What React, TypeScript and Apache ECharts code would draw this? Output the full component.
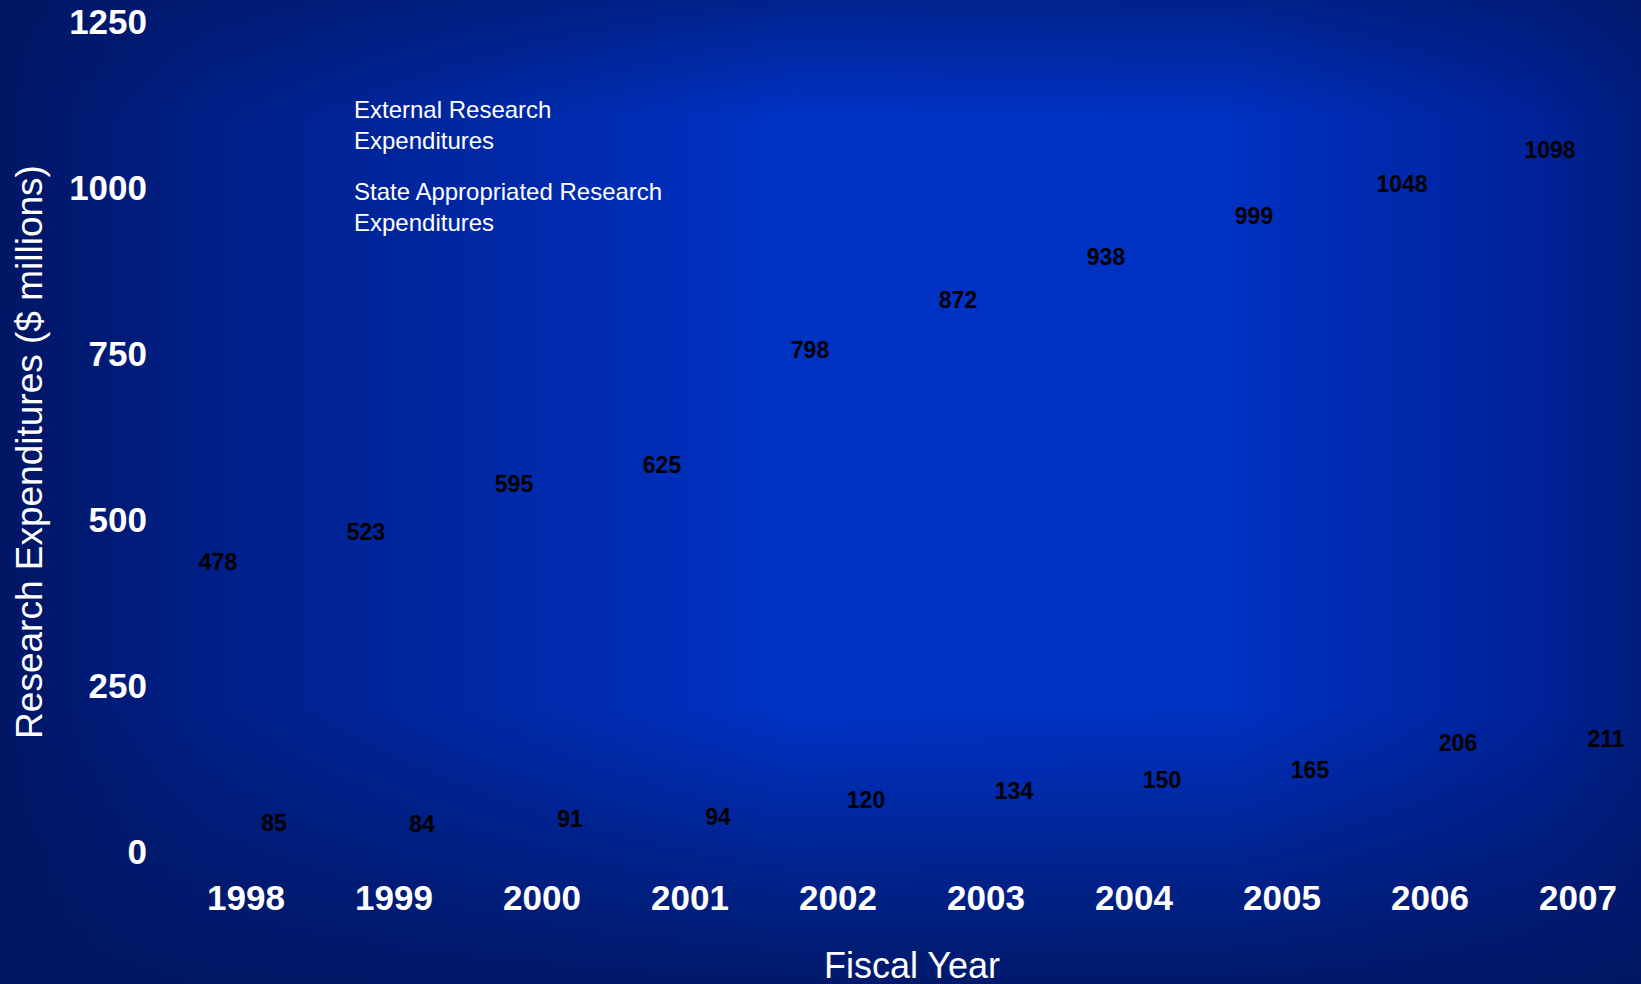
import React, { useEffect, useRef } from "react";
import * as echarts from "echarts";

const categories = ["1998", "1999", "2000", "2001", "2002", "2003", "2004", "2005", "2006", "2007"];
const externalValues = [478, 523, 595, 625, 798, 872, 938, 999, 1048, 1098];
const stateValues = [85, 84, 91, 94, 120, 134, 150, 165, 206, 211];
const yTicks = [0, 250, 500, 750, 1000, 1250];
const seriesNames = ["External Research Expenditures", "State Appropriated Research Expenditures"];
const legendLabels: Record<string, string> = {
  "External Research Expenditures": "External Research\nExpenditures",
  "State Appropriated Research Expenditures": "State Appropriated Research\nExpenditures",
};

const FONT = "'Liberation Sans', Arial, sans-serif";

export default function App() {
  const ref = useRef<HTMLDivElement>(null);
  useEffect(() => {
    if (!ref.current) return;
    const chart = echarts.init(ref.current, null, { renderer: "svg" });
    const label = {
      show: true,
      position: "insideTop" as const,
      distance: 17,
      color: "#000",
      fontWeight: "bold" as const,
      fontSize: 23,
      fontFamily: FONT,
    };
    chart.setOption({
      animation: false,
      backgroundColor: "#001a70",
      graphic: [
        {
          type: "rect",
          z: -100,
          silent: true,
          shape: { x: 0, y: 0, width: 1700, height: 984 },
          style: {
            fill: new echarts.graphic.LinearGradient(0, 0, 1700 / 1641, 0, [
              { offset: 0, color: "#001664" },
              { offset: 0.12, color: "#001f88" },
              { offset: 0.45, color: "#0032c6" },
              { offset: 0.7, color: "#0031c2" },
              { offset: 0.87, color: "#00229a" },
              { offset: 1, color: "#00175e" },
            ]),
          },
        },
        {
          type: "rect",
          z: -99,
          silent: true,
          shape: { x: 0, y: 0, width: 1700, height: 984 },
          style: {
            fill: new echarts.graphic.LinearGradient(0, 0, 0, 1, [
              { offset: 0, color: "rgba(0,22,96,0.55)" },
              { offset: 0.12, color: "rgba(0,22,96,0)" },
              { offset: 0.72, color: "rgba(0,22,96,0)" },
              { offset: 0.9, color: "rgba(0,22,96,0.6)" },
              { offset: 1, color: "rgba(0,22,96,0.9)" },
            ]),
          },
        },
      ],
      legend: {
        orient: "vertical",
        left: 324,
        top: 89,
        itemWidth: 20,
        itemHeight: 14,
        itemGap: 20,
        icon: "rect",
        data: seriesNames,
        formatter: (n: string) => legendLabels[n] || n,
        textStyle: { color: "#fff", fontSize: 24, lineHeight: 31, fontFamily: FONT },
      },
      grid: {
        left: 172,
        top: 21,
        width: 1480,
        height: 830,
        containLabel: false,
        outerBoundsMode: "none",
      },
      xAxis: {
        type: "category",
        data: categories,
        axisLine: { show: false },
        axisTick: { show: false },
        axisLabel: { color: "#fff", fontWeight: "bold", fontSize: 35, fontFamily: FONT, margin: 29 },
        name: "Fiscal Year",
        nameLocation: "middle",
        nameGap: 96,
        nameTextStyle: { color: "#fff", fontSize: 36, fontFamily: FONT },
      },
      yAxis: {
        type: "value",
        min: yTicks[0],
        max: yTicks[yTicks.length - 1],
        interval: yTicks[1] - yTicks[0],
        splitLine: { show: false },
        axisLine: { show: false },
        axisTick: { show: false },
        axisLabel: {
          color: "#fff",
          fontWeight: "bold",
          fontSize: 35,
          fontFamily: FONT,
          margin: 25,
          formatter: (v: number) => String(v),
        },
        name: "Research Expenditures ($ millions)",
        nameLocation: "middle",
        nameGap: 124,
        nameTextStyle: { color: "#fff", fontSize: 37, fontFamily: FONT, padding: [0, 32, 0, 0] },
      },
      series: [
        {
          name: seriesNames[0],
          type: "bar",
          data: externalValues,
          barWidth: 40,
          barGap: "40%",
          itemStyle: { color: "rgba(0,0,0,0)" },
          label,
        },
        {
          name: seriesNames[1],
          type: "bar",
          data: stateValues,
          barWidth: 40,
          barGap: "40%",
          itemStyle: { color: "rgba(0,0,0,0)" },
          label,
        },
      ],
    });
    return () => chart.dispose();
  }, []);
  return (
    <div style={{ position: "fixed", left: 0, top: 0, width: 1641, height: 984, overflow: "hidden" }}>
      <div ref={ref} style={{ position: "absolute", left: 0, top: 0, width: 1700, height: 984 }} />
    </div>
  );
}
